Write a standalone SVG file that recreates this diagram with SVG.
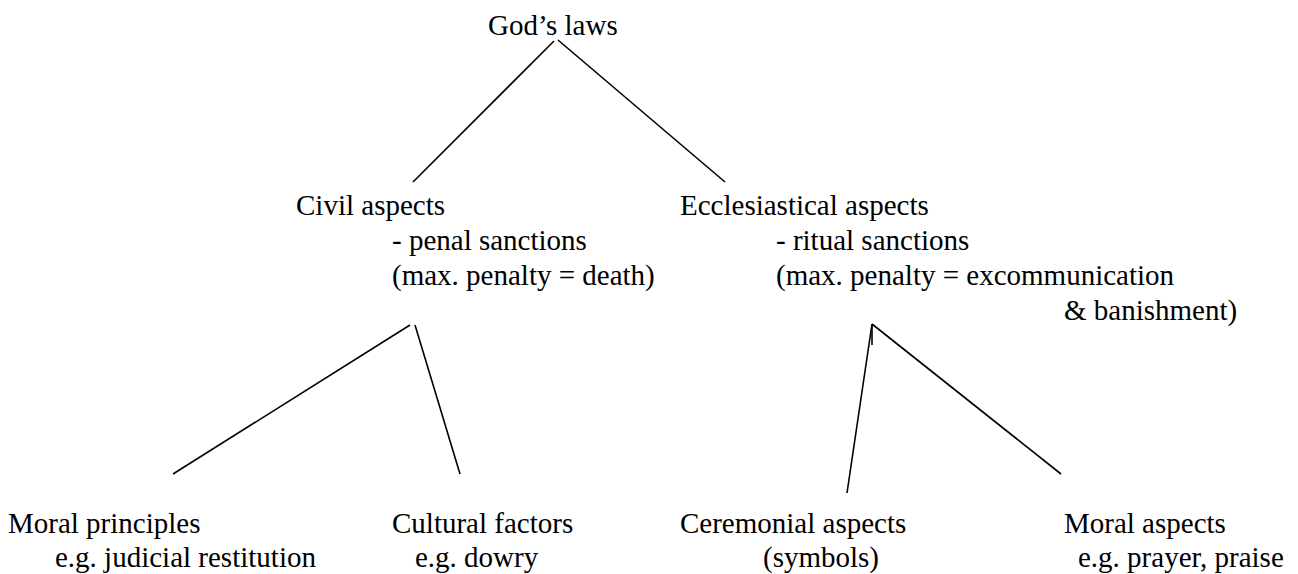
<svg xmlns="http://www.w3.org/2000/svg" width="1298" height="574" viewBox="0 0 1298 574">
<style>
text { font-family: "Liberation Serif", "Times New Roman", serif; font-size: 29px; fill: #000; }
.c { stroke: #000; stroke-width: 1.6; fill: none; stroke-linecap: butt; }
</style>
<rect width="1298" height="574" fill="#fff"/>
<g id="connectors">
<line class="c" x1="554" y1="41" x2="413" y2="182"/>
<line class="c" x1="558" y1="40" x2="725" y2="182"/>
<line class="c" x1="410" y1="325" x2="173" y2="474"/>
<line class="c" x1="415" y1="325" x2="460" y2="474"/>
<line class="c" x1="872" y1="324" x2="847" y2="493"/>
<line class="c" x1="872" y1="324" x2="872" y2="345"/>
<line class="c" x1="872" y1="324" x2="1061" y2="474"/>
</g>
<g id="gods-laws"><text x="488" y="35">God’s laws</text></g>
<g id="civil">
<text x="296" y="215">Civil aspects</text>
<text x="392" y="250">- penal sanctions</text>
<text x="392" y="285">(max. penalty = death)</text>
</g>
<g id="ecclesiastical">
<text x="680" y="215">Ecclesiastical aspects</text>
<text x="776" y="250">- ritual sanctions</text>
<text x="776" y="285">(max. penalty = excommunication</text>
<text x="1064" y="320">&amp; banishment)</text>
</g>
<g id="moral-principles">
<text x="8" y="533">Moral principles</text>
<text x="55" y="567">e.g. judicial restitution</text>
</g>
<g id="cultural-factors">
<text x="392" y="533">Cultural factors</text>
<text x="415" y="567">e.g. dowry</text>
</g>
<g id="ceremonial-aspects">
<text x="680" y="533">Ceremonial aspects</text>
<text x="763" y="567">(symbols)</text>
</g>
<g id="moral-aspects">
<text x="1064" y="533">Moral aspects</text>
<text x="1078" y="567">e.g. prayer, praise</text>
</g>
</svg>
